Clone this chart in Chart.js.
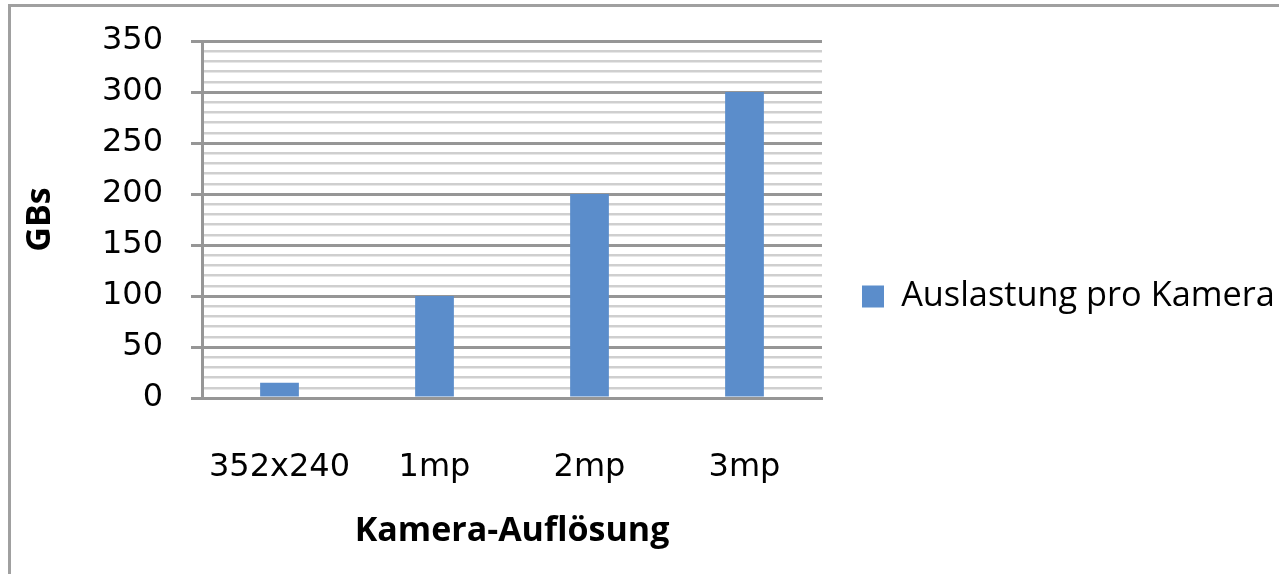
<!DOCTYPE html>
<html>
<head>
<meta charset="utf-8">
<script src="https://cdn.jsdelivr.net/npm/chart.js@4.4.1/dist/chart.umd.min.js"></script>
<style>
  html, body { margin: 0; padding: 0; background: #fff; overflow: hidden; }
  #frame { position: absolute; left: 8px; top: 4px; width: 1400px; height: 700px; border: 3px solid #a0a0a0; box-sizing: border-box; }
  #wrap { position: absolute; left: 0; top: 0; width: 1279px; height: 574px; }
</style>
</head>
<body>
<div id="frame"></div>
<div id="wrap"><canvas id="c" width="1279" height="574"></canvas></div>
<script>
const categories = ['352x240', '1mp', '2mp', '3mp'];
const seriesName = 'Auslastung pro Kamera';
const seriesValues = [15, 100, 200, 300];
const yMin = 0, yMax = 350, yStep = 10, yLabelStep = 50;
const xTitle = 'Kamera-Auflösung';
const yTitle = 'GBs';

const barColor = '#5B8DCB';
const isMajor = v => Math.round(v) % yLabelStep === 0;

const legendFontSize = 34.3;
const legendFont = legendFontSize + 'px "Open Sans"';
const boxW = 22;
const legendBoxX = 862;   // left of legend swatch
const plotRight = 822;    // right edge of plot area

function build() {
  const mctx = document.createElement('canvas').getContext('2d');
  mctx.font = legendFont;
  const tw = mctx.measureText(seriesName).width;
  const itemW = boxW + legendFontSize / 2 + tw;
  const padRight = 1279 - legendBoxX - itemW - 10;

  new Chart(document.getElementById('c'), {
    type: 'bar',
    data: {
      labels: categories,
      datasets: [{
        label: seriesName,
        data: seriesValues,
        backgroundColor: barColor,
        borderWidth: 0,
        categoryPercentage: 1,
        barPercentage: 0.25
      }]
    },
    options: {
      responsive: false,
      animation: false,
      devicePixelRatio: 1,
      layout: { padding: { left: 20, top: 41, right: padRight, bottom: 22 } },
      plugins: {
        tooltip: { enabled: false },
        legend: {
          position: 'right',
          maxWidth: 700,
          labels: {
            boxWidth: boxW,
            boxHeight: boxW,
            padding: legendBoxX - plotRight,
            color: '#000',
            font: { family: 'Open Sans', size: legendFontSize }
          }
        }
      },
      scales: {
        x: {
          afterFit: s => { s.height = 154; },
          grid: { display: true, drawOnChartArea: false, drawTicks: false },
          border: { display: true, color: '#969696', width: 3 },
          ticks: { color: '#000', padding: 50, maxRotation: 0, font: { family: 'DejaVu Sans', size: 32 } },
          title: {
            display: true, text: xTitle, color: '#000',
            font: { family: 'Open Sans', size: 34, weight: 'bold' },
            padding: { top: 0, bottom: 0 }
          }
        },
        y: {
          min: yMin, max: yMax,
          afterFit: s => { s.width = 182; s.paddingTop = 0; s.paddingBottom = 0; },
          border: { display: true, color: '#969696', width: 3 },
          grid: {
            drawTicks: true,
            tickLength: 11,
            color: ctx => isMajor(ctx.tick.value) ? '#969696' : '#cfcfcf',
            lineWidth: ctx => isMajor(ctx.tick.value) ? 3 : 2.5,
            tickColor: ctx => isMajor(ctx.tick.value) ? '#969696' : 'rgba(0,0,0,0)',
            tickWidth: 3
          },
          ticks: {
            stepSize: yStep,
            autoSkip: false,
            padding: 28,
            color: '#000',
            font: { family: 'DejaVu Sans', size: 32 },
            callback: v => isMajor(v) ? String(v) : ''
          },
          title: {
            display: true, text: yTitle, color: '#000',
            font: { family: 'Open Sans', size: 34, weight: 'bold' },
            padding: { top: 0, bottom: 0 }
          }
        }
      }
    }
  });
}

const fontLoads = [
  document.fonts.load(legendFont, seriesName),
  document.fonts.load('bold 34px "Open Sans"', xTitle),
  document.fonts.load('32px "DejaVu Sans"', '0123456789x')
];
Promise.all(fontLoads).then(build, build);
</script>
</body>
</html>
